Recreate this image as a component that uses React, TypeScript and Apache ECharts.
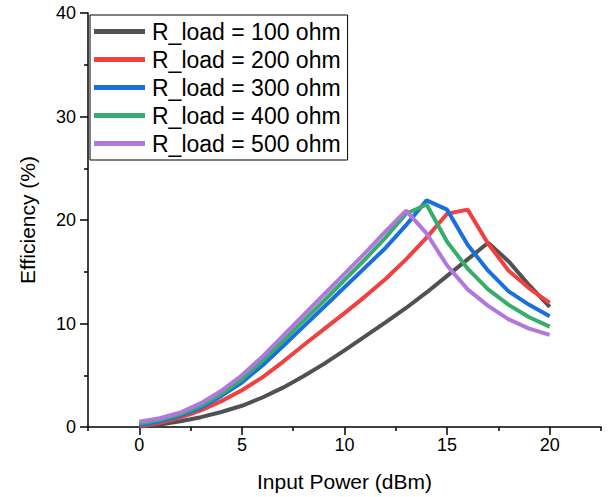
import React, { useEffect, useRef } from "react";
import * as echarts from "echarts";

const xValues = [0, 1, 2, 3, 4, 5, 6, 7, 8, 9, 10, 11, 12, 13, 14, 15, 16, 17, 18, 19, 20];
const load100 = [0.05, 0.25, 0.55, 0.95, 1.45, 2.05, 2.85, 3.8, 4.9, 6.1, 7.4, 8.75, 10.1, 11.5, 13.0, 14.6, 16.2, 17.8, 16.0, 13.7, 11.6];
const load200 = [0.1, 0.4, 0.9, 1.6, 2.5, 3.55, 4.8, 6.3, 7.9, 9.45, 11.0, 12.6, 14.3, 16.2, 18.3, 20.6, 21.0, 17.7, 15.1, 13.4, 12.0];
const load300 = [0.2, 0.55, 1.1, 1.85, 3.0, 4.3, 5.95, 7.8, 9.7, 11.6, 13.5, 15.4, 17.3, 19.5, 21.9, 21.0, 17.6, 15.1, 13.1, 11.8, 10.7];
const load400 = [0.3, 0.7, 1.25, 2.05, 3.2, 4.6, 6.4, 8.3, 10.25, 12.2, 14.2, 16.2, 18.3, 20.6, 21.5, 17.9, 15.3, 13.3, 11.8, 10.6, 9.7];
const load500 = [0.5, 0.85, 1.4, 2.3, 3.5, 5.0, 6.8, 8.8, 10.8, 12.8, 14.8, 16.8, 18.9, 20.9, 18.7, 15.6, 13.3, 11.7, 10.4, 9.5, 8.9];
const seriesNames = ["R_load = 100 ohm", "R_load = 200 ohm", "R_load = 300 ohm", "R_load = 400 ohm", "R_load = 500 ohm"];
const seriesColors = ["#515151", "#F14040", "#1A6FDF", "#37AD6B", "#B177DE"];
const majorXTicks = [0, 5, 10, 15, 20];
const minorXTicks = [-2.5, 2.5, 7.5, 12.5, 17.5, 22.5];

const FONT = "'Liberation Sans', Arial, sans-serif";

export default function App() {
  const ref = useRef<HTMLDivElement>(null);
  useEffect(() => {
    if (!ref.current) return;
    const chart = echarts.init(ref.current, undefined, { renderer: "svg" });
    const allData = [load100, load200, load300, load400, load500];
    chart.setOption({
      animation: false,
      backgroundColor: "#ffffff",
      grid: { left: 88, right: 9, top: 13, bottom: 70, containLabel: false },
      legend: {
        orient: "vertical",
        left: 90,
        top: 15,
        padding: [5, 7, 5, 4],
        itemGap: 5,
        itemWidth: 51,
        itemHeight: 5,
        icon: "rect",
        borderColor: "#000",
        borderWidth: 1,
        backgroundColor: "#fff",
        textStyle: { fontFamily: FONT, fontSize: 23, color: "#000", padding: [0, 0, 0, 2] },
        data: seriesNames,
      },
      xAxis: [
        {
          type: "value",
          min: -2.5,
          max: 22.5,
          name: "Input Power (dBm)",
          nameLocation: "middle",
          nameGap: 44,
          nameTextStyle: { fontFamily: FONT, fontSize: 21, color: "#000" },
          axisLine: { show: true, onZero: false, lineStyle: { color: "#000", width: 1.5 } },
          axisTick: { show: true, length: 8, customValues: majorXTicks, lineStyle: { color: "#000", width: 1.5 } },
          axisLabel: { show: true, customValues: majorXTicks, fontFamily: FONT, fontSize: 18, color: "#000", margin: 9 },
          splitLine: { show: false },
        },
        {
          type: "value",
          min: -2.5,
          max: 22.5,
          position: "bottom",
          axisLine: { show: false, onZero: false },
          axisTick: { show: true, length: 4, customValues: minorXTicks, lineStyle: { color: "#000", width: 1.5 } },
          axisLabel: { show: false },
          splitLine: { show: false },
        },
      ],
      yAxis: {
        type: "value",
        min: 0,
        max: 40,
        interval: 10,
        name: "Efficiency (%)",
        nameLocation: "middle",
        nameGap: 50,
        nameTextStyle: { fontFamily: FONT, fontSize: 21, color: "#000" },
        axisLine: { show: true, onZero: false, lineStyle: { color: "#000", width: 1.5 } },
        axisTick: { show: true, length: 8, lineStyle: { color: "#000", width: 1.5 } },
        minorTick: { show: true, splitNumber: 2, length: 4, lineStyle: { color: "#000", width: 1.5 } },
        axisLabel: { fontFamily: FONT, fontSize: 18, color: "#000", margin: 12 },
        splitLine: { show: false },
      },
      series: seriesNames.map((name, i) => ({
        name,
        type: "line",
        xAxisIndex: 0,
        data: xValues.map((x, j) => [x, allData[i][j]]),
        showSymbol: false,
        symbol: "none",
        lineStyle: { color: seriesColors[i], width: 4 },
        itemStyle: { color: seriesColors[i] },
      })),
    });
    return () => chart.dispose();
  }, []);
  return <div ref={ref} style={{ position: "fixed", left: 0, top: 0, width: 610, height: 497 }} />;
}
